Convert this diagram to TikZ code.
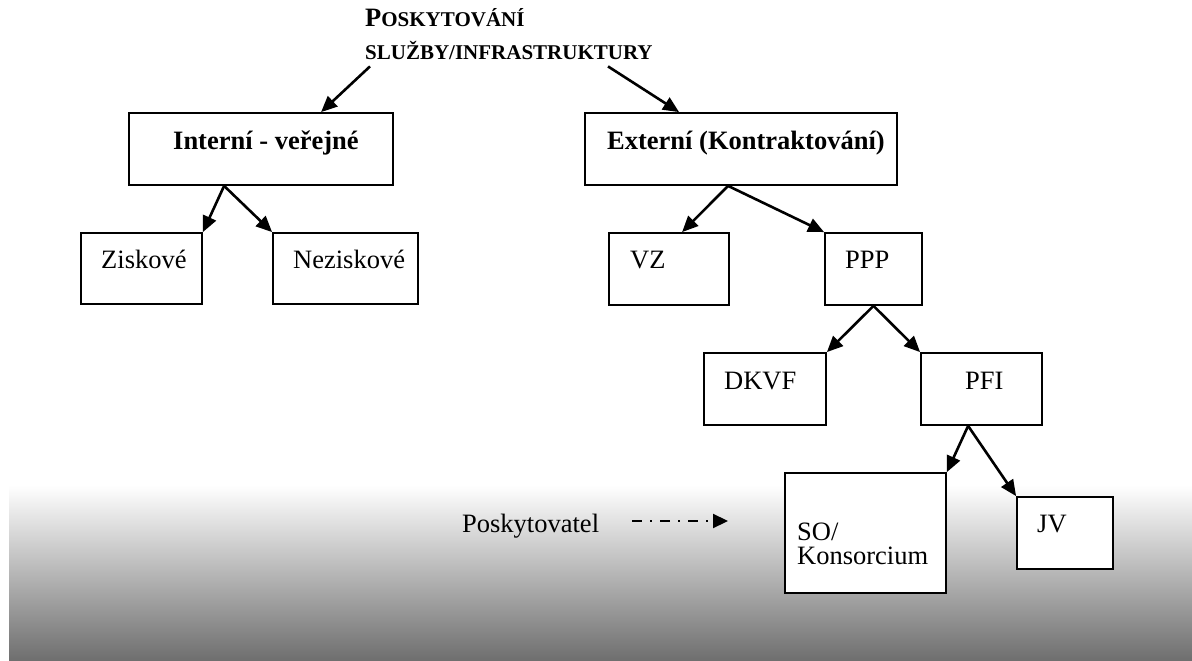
\documentclass[tikz,border=0pt]{standalone}
\usepackage{fontspec}
\setmainfont{Liberation Serif}
\usetikzlibrary{arrows.meta}
\definecolor{shadebot}{RGB}{110,110,110}
\begin{document}
\begin{tikzpicture}[x=1pt,y=-1pt,
  box/.style={draw, line width=1.8pt, fill=white, inner sep=0pt},
  txt/.style={anchor=base west, inner sep=0pt, font=\fontsize{26.5}{31}\selectfont},
  btxt/.style={txt, font=\fontsize{26.5}{31}\selectfont\bfseries},
  arr/.style={line width=2.6pt, -{Triangle[length=16pt,width=14pt]}},
  dasharr/.style={line width=2.2pt, dash pattern=on 10pt off 8pt on 2pt off 8pt, -{Triangle[length=15pt,width=14pt]}}
]
\useasboundingbox (0,0) rectangle (1192,661);
\fill[white] (0,0) rectangle (1192,661);
\shade[top color=white, bottom color=shadebot] (9,485) rectangle (1192,661);

% title
\node[anchor=base west, inner sep=0pt, font=\bfseries] (title1) at (365,27)
  {\fontsize{26.5}{31}\selectfont P\fontsize{21}{25}\selectfont OSKYTOVÁNÍ};
\node[anchor=base west, inner sep=0pt, font=\bfseries\fontsize{21}{25}\selectfont] (title2) at (365,60)
  {SLUŽBY/INFRASTRUKTURY};

% boxes
\node[box, minimum width=264pt, minimum height=72pt] (intern) at (261,149) {};
\node[box, minimum width=312pt, minimum height=72pt] (extern) at (741,149) {};
\node[box, minimum width=121pt, minimum height=71pt] (zisk) at (141.5,268.5) {};
\node[box, minimum width=145pt, minimum height=71pt] (nezisk) at (345.5,268.5) {};
\node[box, minimum width=120pt, minimum height=72pt] (vz) at (669,269) {};
\node[box, minimum width=97pt, minimum height=72pt] (ppp) at (873.5,269) {};
\node[box, minimum width=122pt, minimum height=72pt] (dkvf) at (765,389) {};
\node[box, minimum width=121pt, minimum height=72pt] (pfi) at (981.5,389) {};
\node[box, minimum width=161pt, minimum height=120pt] (so) at (865.5,533) {};
\node[box, minimum width=96pt, minimum height=72pt] (jv) at (1065,533) {};

% texts
\node[btxt] (tintern) at (173,149) {Interní - veřejné};
\node[btxt] (textern) at (607,149) {Externí (Kontraktování)};
\node[txt] (tzisk) at (101,268) {Ziskové};
\node[txt] (tnezisk) at (293,268) {Neziskové};
\node[txt] (tvz) at (630,268) {VZ};
\node[txt] (tppp) at (845,268) {PPP};
\node[txt] (tdkvf) at (724,389) {DKVF};
\node[txt] (tpfi) at (965,389) {PFI};
\node[txt] (tso1) at (797,540) {SO/};
\node[txt] (tso2) at (797,564) {Konsorcium};
\node[txt] (tjv) at (1037,532) {JV};
\node[txt] (posk) at (462,532) {Poskytovatel};

% arrows
\draw[arr] ([xshift=5pt,yshift=-6pt]title2.south west) -- ([xshift=193pt]intern.north west);
\draw[arr] ([xshift=243pt,yshift=-6pt]title2.south west) -- ([xshift=95pt]extern.north west);
\draw[arr] ([xshift=96pt]intern.south west) -- (zisk.north east);
\draw[arr] ([xshift=96pt]intern.south west) -- (nezisk.north west);
\draw[arr] ([xshift=144pt]extern.south west) -- ([xshift=74pt]vz.north west);
\draw[arr] ([xshift=144pt]extern.south west) -- (ppp.north west);
\draw[arr] (ppp.south) -- (dkvf.north east);
\draw[arr] (ppp.south) -- (pfi.north west);
\draw[arr] ([xshift=48pt]pfi.south west) -- (so.north east);
\draw[arr] ([xshift=48pt]pfi.south west) -- (jv.north west);

\coordinate (da) at (632,521);
\coordinate (db) at (728,521);
\draw[dasharr] (da) -- (db);
\end{tikzpicture}
\end{document}
